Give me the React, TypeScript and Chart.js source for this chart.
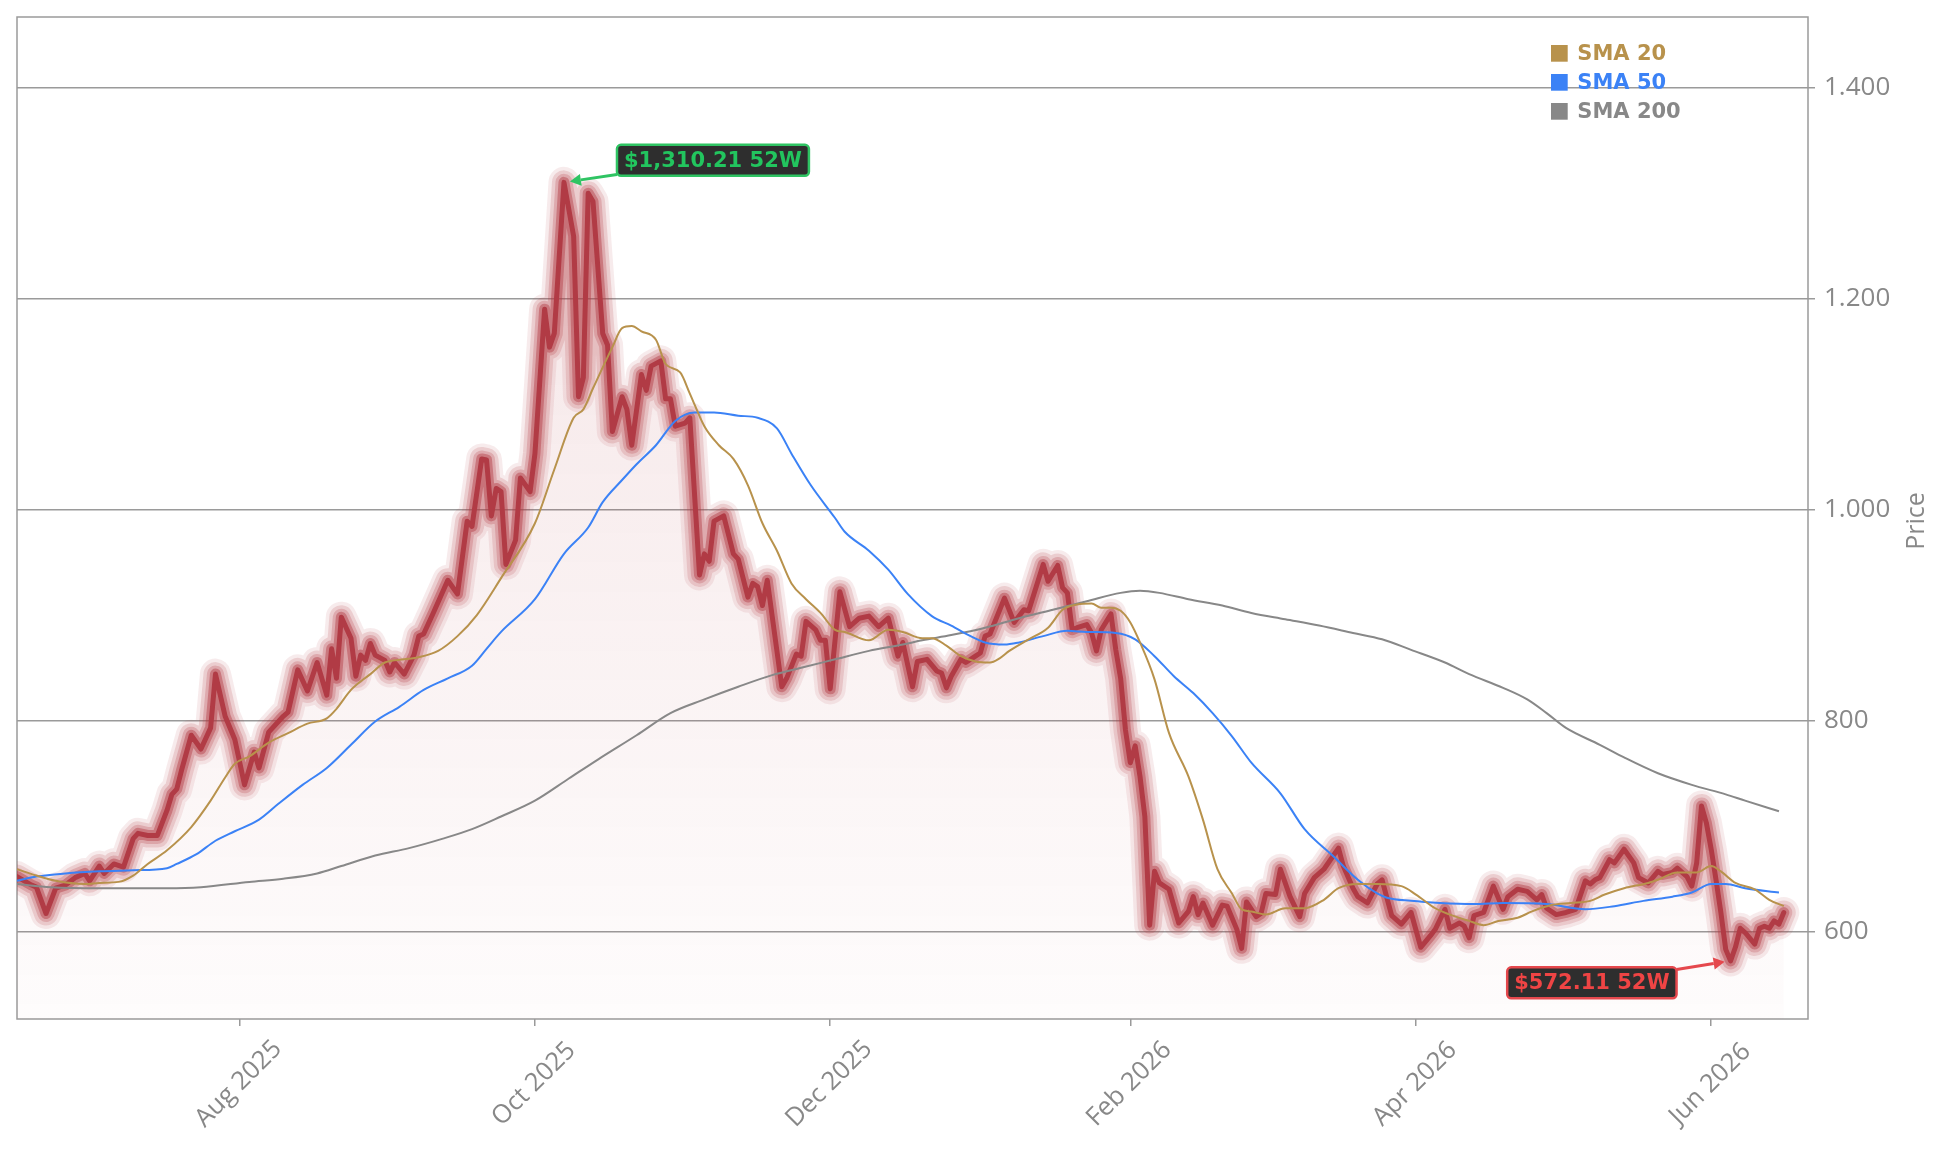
import React, { useEffect, useRef } from "react";
import { Chart, registerables } from "chart.js";

Chart.register(...registerables);

// x values are days counted from 2025-08-01
const priceDays = [
  -46, -43, -42, -40, -38, -36, -34, -32, -31, -29, -28, -26, -24, -22, -21, -19, -17, -15, -14, -13,
  -12, -10, -8, -6, -5, -3, -1, 1, 3, 4, 6, 9, 10, 12, 14, 16, 18, 19, 20, 21,
  23, 24, 25, 26, 27, 28, 30, 31, 32, 34, 36, 37, 38, 40, 43, 45, 47, 48, 50, 51,
  52, 53, 54, 55, 57, 58, 60, 61, 63, 64, 65, 67, 69, 70, 71, 72, 73, 75, 76, 77,
  79, 80, 81, 83, 84, 85, 87, 88, 89, 90, 92, 93, 95, 96, 97, 98, 100, 102, 103, 105,
  106, 107, 108, 109, 112, 113, 115, 116, 117, 119, 120, 121, 122, 124, 126, 128, 130, 132, 134, 136,
  137, 139, 140, 142, 144, 145, 146, 147, 149, 150, 152, 153, 154, 155, 158, 160, 162, 163, 166, 167,
  169, 170, 171, 172, 173, 175, 176, 177, 178, 180, 181, 182, 183, 184, 185, 186, 187, 188, 189, 190,
  192, 194, 196, 197, 198, 199, 201, 203, 204, 206, 207, 208, 210, 211, 212, 214, 215, 217, 219, 220,
  222, 224, 227, 228, 230, 231, 233, 235, 236, 238, 240, 242, 244, 246, 247, 249, 250, 252, 253, 254,
  255, 257, 259, 261, 262, 264, 266, 268, 269, 270, 272, 274, 276, 278, 279, 280, 281, 283, 284, 286,
  288, 289, 291, 293, 294, 296, 297, 299, 300, 301, 302, 303, 304, 305, 306, 307, 308, 309, 310, 311,
  313, 314, 315, 316, 317, 318, 319,
];
const priceValues = [
  652, 644, 642, 617, 641, 644, 651, 655, 648, 662, 655, 664, 661, 688, 693, 691, 691, 715, 730, 735,
  753, 786, 773, 793, 844, 804, 782, 739, 770, 755, 789, 804, 808, 848, 828, 855, 824, 868, 840, 898,
  878, 842, 862, 857, 873, 862, 857, 846, 855, 844, 862, 880, 882, 902, 933, 920, 989, 984, 1048, 1047,
  994, 1020, 1017, 948, 971, 1030, 1017, 1053, 1190, 1154, 1167, 1310.21, 1259, 1107, 1125, 1300, 1292, 1167, 1156, 1074,
  1107, 1095, 1061, 1128, 1113, 1136, 1141, 1105, 1105, 1079, 1082, 1087, 938, 958, 951, 989, 994, 958, 953, 917,
  930, 927, 909, 933, 832, 840, 863, 861, 894, 886, 876, 876, 830, 922, 889, 897, 899, 889, 897, 861,
  874, 832, 856, 858, 847, 845, 831, 842, 858, 855, 861, 864, 880, 882, 916, 893, 905, 904, 948, 932,
  947, 926, 921, 886, 888, 891, 883, 866, 886, 901, 867, 840, 791, 760, 776, 747, 709, 606, 657, 646,
  640, 608, 619, 633, 616, 627, 606, 625, 624, 602, 584, 628, 614, 617, 636, 635, 659, 633, 614, 636,
  651, 659, 679, 662, 641, 633, 627, 645, 649, 615, 607, 618, 585, 596, 602, 621, 603, 608, 605, 594,
  615, 618, 643, 621, 633, 640, 638, 630, 635, 622, 616, 618, 621, 648, 645, 649, 651, 668, 665, 678,
  665, 651, 646, 657, 654, 656, 660, 652, 643, 665, 719, 703, 678, 649, 618, 583, 572.11, 585, 603, 599,
  588, 603, 605, 603, 610, 607, 618,
];

const sma20Days = [
  -46, -42, -38, -32, -29, -25, -22, -19, -15, -10, -6, -3, -1, 2, 6, 10, 14, 18, 20, 23,
  27, 30, 34, 37, 41, 45, 49, 54, 61, 65, 69, 71, 73, 77, 79, 81, 83, 86, 88, 91,
  93, 96, 99, 102, 105, 108, 111, 114, 117, 120, 123, 125, 130, 134, 137, 141, 143, 146, 149, 152,
  155, 157, 159, 163, 167, 170, 173, 176, 178, 180, 182, 184, 186, 189, 192, 196, 199, 202, 205, 207,
  209, 212, 216, 220, 224, 227, 231, 235, 240, 243, 247, 250, 254, 257, 260, 264, 267, 271, 275, 279,
  282, 286, 291, 293, 297, 301, 304, 306, 309, 313, 316, 319,
];
const sma20Values = [
  659, 653, 648, 645, 646, 647, 653, 664, 677, 699, 724, 746, 759, 766, 779, 788, 797, 802, 811, 829,
  844, 855, 858, 860, 866, 880, 900, 935, 987, 1038, 1087, 1095, 1115, 1154, 1172, 1174, 1169, 1161, 1138, 1130,
  1110, 1079, 1061, 1048, 1023, 987, 961, 930, 915, 902, 886, 884, 876, 886, 884, 878, 878, 871, 861, 856,
  855, 859, 866, 877, 888, 905, 910, 911, 907, 907, 904, 893, 874, 839, 788, 747, 706, 659, 636, 621,
  619, 616, 622, 622, 630, 641, 645, 645, 643, 635, 622, 616, 610, 606, 610, 613, 619, 625, 627, 629,
  635, 641, 646, 649, 656, 656, 662, 657, 646, 640, 630, 624,
];

const sma50Days = [
  -46, -42, -36, -29, -22, -15, -13, -9, -5, -1, 4, 8, 13, 18, 23, 28, 33, 38, 43, 48,
  51, 54, 61, 67, 72, 75, 79, 82, 86, 90, 94, 98, 103, 107, 111, 114, 118, 123, 125, 130,
  134, 138, 143, 147, 151, 154, 158, 161, 166, 171, 175, 181, 185, 189, 193, 197, 201, 205, 209, 215,
  220, 226, 231, 235, 237, 242, 248, 255, 261, 270, 278, 284, 290, 296, 300, 304, 307, 311, 318,
];
const sma50Values = [
  648, 652, 655, 657, 658, 660, 664, 673, 686, 695, 706, 721, 739, 755, 777, 799, 813, 829, 840, 852,
  868, 884, 915, 958, 983, 1007, 1028, 1043, 1061, 1084, 1092, 1092, 1089, 1087, 1077, 1053, 1023, 992, 979, 961,
  943, 920, 899, 890, 880, 874, 872, 874, 880, 885, 884, 883, 877, 861, 842, 826, 807, 785, 760, 731,
  697, 671, 649, 636, 632, 629, 627, 626, 627, 626, 621, 624, 629, 633, 637, 645, 645, 641, 637,
];

const sma200Days = [
  -46, -39, -29, -15, -8, 2, 9, 16, 21, 28, 35, 42, 48, 54, 61, 68, 74, 82, 89, 96,
  103, 110, 116, 123, 130, 137, 141, 147, 154, 161, 168, 175, 182, 186, 190, 196, 203, 209, 216, 223,
  230, 236, 242, 249, 254, 261, 266, 270, 274, 281, 286, 293, 300, 307, 311, 318,
];
const sma200Values = [
  645, 642, 641, 641, 642, 647, 650, 655, 662, 672, 679, 688, 697, 709, 724, 745, 763, 786, 807, 820,
  832, 843, 850, 858, 866, 872, 876, 881, 888, 897, 905, 913, 921, 923, 921, 915, 909, 902, 896, 890,
  883, 877, 867, 855, 844, 831, 820, 807, 793, 777, 765, 750, 739, 730, 724, 714,
];

const xTickDays = [0, 61, 122, 184, 243, 304];
const xTickLabels = ["Aug 2025", "Oct 2025", "Dec 2025", "Feb 2026", "Apr 2026", "Jun 2026"];
const yTickValues = [600, 800, 1000, 1200, 1400];

const X_MIN = -46;
const X_MAX = 324;
const Y_MIN = 517;
const Y_MAX = 1467;

const seriesNames = ["SMA 20", "SMA 50", "SMA 200"];
const seriesColors = ["#b8924c", "#3b82f6", "#888888"];

const LINE_RED = "#b13b45";
const GRID = "#9a9a9a";
const TEXT_GRAY = "#888888";

function fmtAxis(v: number): string {
  if (v >= 1000) {
    const th = Math.floor(v / 1000);
    const rest = String(Math.round(v % 1000)).padStart(3, "0");
    return `${th}.${rest}`;
  }
  return String(v);
}
function fmtMoney(v: number): string {
  const [i, d] = v.toFixed(2).split(".");
  return "$" + i.replace(/\B(?=(\d{3})+(?!\d))/g, ",") + "." + d;
}

const framePlugin = {
  id: "frame",
  beforeDatasetsDraw(chart: any) {
    const { ctx, chartArea: a } = chart;
    ctx.save();
    ctx.strokeStyle = GRID;
    ctx.lineWidth = 1.5;
    ctx.strokeRect(a.left, a.top, a.right - a.left, a.bottom - a.top);
    ctx.restore();
  },
};

function drawMarker(chart: any, idx: number, color: string, border: string, above: boolean) {
  const { ctx } = chart;
  const px = chart.scales.x.getPixelForValue(priceDays[idx]);
  const py = chart.scales.y.getPixelForValue(priceValues[idx]);
  const text = `${fmtMoney(priceValues[idx])} 52W`;
  ctx.save();
  ctx.font = 'bold 21px "DejaVu Sans"';
  const tw = ctx.measureText(text).width;
  const w = tw + 14;
  const h = 31;
  let left: number, cy: number;
  if (above) {
    left = px + 53;
    cy = py - 22;
  } else {
    left = px - 54 - w;
    cy = py + 22;
  }
  const top = cy - h / 2;
  const cx = left + w / 2;
  const dx = px - cx;
  const dy = py - cy;
  const edgeX = dx > 0 ? left + w : left;
  const t = (edgeX - cx) / dx;
  const sx = edgeX;
  const sy = cy + dy * t;
  const len = Math.hypot(px - sx, py - sy);
  const ux = (px - sx) / len;
  const uy = (py - sy) / len;
  const tipX = px - ux * 6;
  const tipY = py - uy * 6;
  const headL = 11;
  const headW = 6;
  const bx = tipX - ux * headL;
  const by = tipY - uy * headL;
  ctx.strokeStyle = border;
  ctx.fillStyle = border;
  ctx.lineWidth = 3;
  ctx.beginPath();
  ctx.moveTo(sx, sy);
  ctx.lineTo(bx, by);
  ctx.stroke();
  ctx.beginPath();
  ctx.moveTo(tipX, tipY);
  ctx.lineTo(bx - uy * headW, by + ux * headW);
  ctx.lineTo(bx + uy * headW, by - ux * headW);
  ctx.closePath();
  ctx.fill();
  ctx.beginPath();
  (ctx as any).roundRect(left, top, w, h, 4);
  ctx.fillStyle = "#2e2e2e";
  ctx.fill();
  ctx.lineWidth = 2.5;
  ctx.strokeStyle = border;
  ctx.stroke();
  ctx.fillStyle = color;
  ctx.textAlign = "center";
  ctx.textBaseline = "middle";
  ctx.fillText(text, cx, cy + 1);
  ctx.restore();
}

const markerPlugin = {
  id: "markers",
  afterDatasetsDraw(chart: any) {
    let maxI = 0;
    let minI = 0;
    priceValues.forEach((v, i) => {
      if (v > priceValues[maxI]) maxI = i;
      if (v < priceValues[minI]) minI = i;
    });
    drawMarker(chart, maxI, "#22c55e", "#2fc463", true);
    drawMarker(chart, minI, "#ef4444", "#e5484d", false);
  },
};

const decorPlugin = {
  id: "decor",
  afterDraw(chart: any) {
    const { ctx, chartArea: a, scales } = chart;
    ctx.save();
    ctx.font = '25.5px "Open Sans"';
    ctx.fillStyle = TEXT_GRAY;
    ctx.textAlign = "center";
    ctx.textBaseline = "middle";
    xTickDays.forEach((d, i) => {
      const x = scales.x.getPixelForValue(d);
      ctx.save();
      ctx.translate(x - 1, a.bottom + 65);
      ctx.rotate(-Math.PI / 4);
      ctx.fillText(xTickLabels[i], 0, 0);
      ctx.restore();
    });
    ctx.save();
    ctx.font = '25px "Open Sans"';
    ctx.translate(1909, (a.top + a.bottom) / 2 + 3);
    ctx.rotate(-Math.PI / 2);
    ctx.fillText("Price", 0, 0);
    ctx.restore();
    ctx.font = 'bold 21px "DejaVu Sans"';
    ctx.textAlign = "left";
    seriesNames.forEach((name, i) => {
      const cy = 45.3 + i * 29;
      ctx.fillStyle = seriesColors[i];
      ctx.fillRect(1543, cy - 8.3, 16.7, 16.7);
      ctx.fillText(name, 1569.3, cy + 1);
    });
    ctx.restore();
  },
};

export default function App() {
  const ref = useRef<HTMLCanvasElement>(null);
  useEffect(() => {
    const pts = priceDays.map((d, i) => ({ x: d, y: priceValues[i] }));
    const mk = (days: number[], vals: number[]) => days.map((d, i) => ({ x: d, y: vals[i] }));
    const glowWidths = [31, 24, 17, 11];
    const glowAlphas = [0.1, 0.17, 0.24, 0.44];
    const glowSets = glowWidths.map((w, i) => ({
      label: "glow" + i,
      data: pts,
      borderColor: `rgba(178,58,66,${glowAlphas[i]})`,
      borderWidth: w,
      borderJoinStyle: "round",
      borderCapStyle: "round",
      pointRadius: 0,
      fill: false,
      tension: 0,
      order: 20 - i,
    }));
    const chart = new Chart(ref.current!, {
      type: "line",
      data: {
        datasets: [
          {
            label: "fill",
            data: pts,
            borderWidth: 0,
            borderColor: "rgba(0,0,0,0)",
            pointRadius: 0,
            fill: "start",
            backgroundColor: (c: any) => {
              const { chart: ch } = c;
              const a = ch.chartArea;
              if (!a) return "rgba(178,58,66,0.06)";
              const g = ch.ctx.createLinearGradient(0, a.top, 0, a.bottom);
              g.addColorStop(0, "rgba(178,58,66,0.15)");
              g.addColorStop(1, "rgba(178,58,66,0.015)");
              return g;
            },
            order: 30,
          } as any,
          ...(glowSets as any[]),
          {
            label: "Price",
            data: pts,
            borderColor: LINE_RED,
            borderWidth: 5,
            borderJoinStyle: "round",
            borderCapStyle: "round",
            pointRadius: 0,
            fill: false,
            tension: 0,
            order: 5,
          } as any,
          {
            label: "SMA 200",
            data: mk(sma200Days, sma200Values),
            borderColor: seriesColors[2],
            borderWidth: 2,
            pointRadius: 0,
            fill: false,
            cubicInterpolationMode: "monotone",
            order: 3,
          } as any,
          {
            label: "SMA 50",
            data: mk(sma50Days, sma50Values),
            borderColor: seriesColors[1],
            borderWidth: 2,
            pointRadius: 0,
            fill: false,
            cubicInterpolationMode: "monotone",
            order: 2,
          } as any,
          {
            label: "SMA 20",
            data: mk(sma20Days, sma20Values),
            borderColor: seriesColors[0],
            borderWidth: 2,
            pointRadius: 0,
            fill: false,
            cubicInterpolationMode: "monotone",
            order: 1,
          } as any,
        ],
      },
      options: {
        animation: false,
        responsive: false,
        devicePixelRatio: 1,
        parsing: false as any,
        normalized: true,
        layout: { padding: { left: 9, top: 9, right: 0, bottom: 0 } },
        plugins: {
          legend: { display: false },
          tooltip: { enabled: false },
          title: { display: false },
        },
        scales: {
          x: {
            type: "linear",
            min: X_MIN,
            max: X_MAX,
            afterBuildTicks: (s: any) => {
              s.ticks = xTickDays.map((v) => ({ value: v }));
            },
            afterFit: (s: any) => {
              s.height = 124;
              s.paddingLeft = 0;
              s.paddingRight = 0;
              s.paddingTop = 0;
              s.paddingBottom = 0;
            },
            ticks: { display: false },
            grid: { drawOnChartArea: false, drawTicks: true, tickLength: 7, color: GRID, lineWidth: 1.5 },
            border: { display: false },
          } as any,
          y: {
            type: "linear",
            position: "right",
            min: Y_MIN,
            max: Y_MAX,
            afterBuildTicks: (s: any) => {
              s.ticks = yTickValues.map((v) => ({ value: v }));
            },
            afterFit: (s: any) => {
              s.width = 128;
              s.paddingTop = 0;
              s.paddingBottom = 0;
              s.paddingLeft = 0;
              s.paddingRight = 0;
            },
            ticks: {
              callback: (v: any) => fmtAxis(Number(v)),
              color: TEXT_GRAY,
              font: { family: "Open Sans", size: 26 },
              padding: 9,
            },
            grid: { color: GRID, lineWidth: 1.5, tickLength: 7 },
            border: { display: false },
          } as any,
        },
      },
      plugins: [framePlugin, markerPlugin, decorPlugin],
    } as any);
    return () => chart.destroy();
  }, []);
  return (
    <div style={{ width: 1928, height: 1135 }}>
      <canvas ref={ref} width={1928} height={1135} style={{ display: "block", width: 1928, height: 1135 }} />
    </div>
  );
}
